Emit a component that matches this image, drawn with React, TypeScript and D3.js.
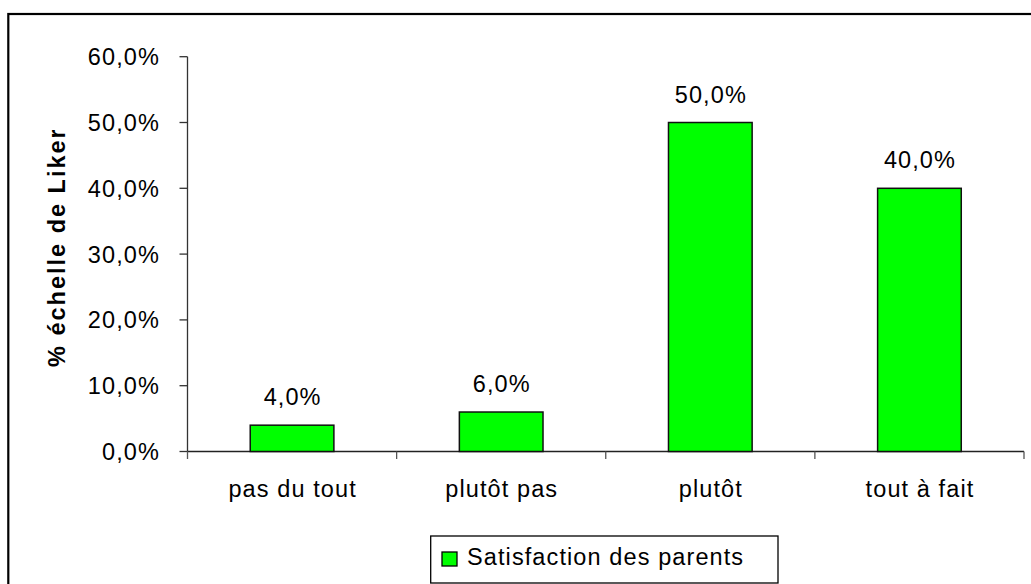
import React from "react";
import * as d3 from "d3";

const categories = ["pas du tout", "plutôt pas", "plutôt", "tout à fait"];
const values = [4.0, 6.0, 50.0, 40.0];
const yTicks = [0, 10, 20, 30, 40, 50, 60];
const seriesName = "Satisfaction des parents";
const yTitle = "% échelle de Likert";

const W = 1031;
const H = 584;
const plot = { left: 187.5, right: 1024, top: 56.7, bottom: 451.5 };
const FONT = "Liberation Sans, Arial, sans-serif";
const FS = 23.5;
const LS = 1.1;
const fmt = (v: number) => v.toFixed(1).replace(".", ",") + "%";

export default function App() {
  const x = d3
    .scaleBand<string>()
    .domain(categories)
    .range([plot.left, plot.right])
    .paddingInner(0.6)
    .paddingOuter(0.3);
  const band = (plot.right - plot.left) / categories.length;
  const y = d3.scaleLinear().domain([0, 60]).range([plot.bottom, plot.top]);

  return (
    <svg
      width={W}
      height={H}
      style={{ position: "absolute", left: 0, top: 0, background: "#fff" }}
      fontFamily={FONT}
    >
      <defs>
        <clipPath id="titleClip">
          <rect x={0} y={130} width={120} height={400} />
        </clipPath>
      </defs>
      {/* outer frame */}
      <rect x={8.3} y={14} width={W + 20} height={H + 20} fill="none" stroke="#000" strokeWidth={2.2} />

      {/* y axis */}
      <line x1={plot.left} x2={plot.left} y1={plot.top} y2={plot.bottom} stroke="#333" strokeWidth={1.3} />
      {yTicks.map((t) => (
        <g key={t}>
          <line x1={plot.left - 8} x2={plot.left} y1={y(t)} y2={y(t)} stroke="#333" strokeWidth={1.3} />
          <text x={160} y={y(t)} dy="0.36em" textAnchor="end" fontSize={FS} letterSpacing={LS} fill="#000">
            {fmt(t)}
          </text>
        </g>
      ))}

      {/* x axis */}
      <line x1={plot.left} x2={plot.right} y1={plot.bottom} y2={plot.bottom} stroke="#222" strokeWidth={1.5} />
      {d3.range(categories.length + 1).map((i) => (
        <line
          key={i}
          x1={plot.left + i * band}
          x2={plot.left + i * band}
          y1={plot.bottom}
          y2={plot.bottom + 7.5}
          stroke="#555"
          strokeWidth={1.3}
        />
      ))}

      {/* bars */}
      {categories.map((c, i) => {
        const bx = x(c)!;
        const bw = x.bandwidth();
        return (
          <g key={c}>
            <rect
              x={bx}
              y={y(values[i])}
              width={bw}
              height={plot.bottom - y(values[i])}
              fill="#00FF00"
              stroke="#111"
              strokeWidth={1.5}
            />
            <text x={bx + bw / 2 + LS / 2} y={y(values[i]) - 20} textAnchor="middle" fontSize={FS} letterSpacing={LS} fill="#000">
              {fmt(values[i])}
            </text>
            <text x={bx + bw / 2 + LS / 2} y={496.5} textAnchor="middle" fontSize={FS} letterSpacing={LS} fill="#000">
              {c}
            </text>
          </g>
        );
      })}

      {/* y title */}
      <g clipPath="url(#titleClip)">
        <text
          transform={`translate(65,367) rotate(-90)`}
          textAnchor="start"
          fontSize={FS}
          fontWeight="bold"
          letterSpacing={2}
          fill="#000"
        >
          {yTitle}
        </text>
      </g>

      {/* legend */}
      <rect x={430.7} y={536} width={347.3} height={47} fill="#fff" stroke="#000" strokeWidth={1.3} />
      <rect x={442} y={552} width={15} height={14} fill="#00FF00" stroke="#000" strokeWidth={1.3} />
      <text x={467} y={565} fontSize={FS} letterSpacing={LS} fill="#000">
        {seriesName}
      </text>
    </svg>
  );
}
